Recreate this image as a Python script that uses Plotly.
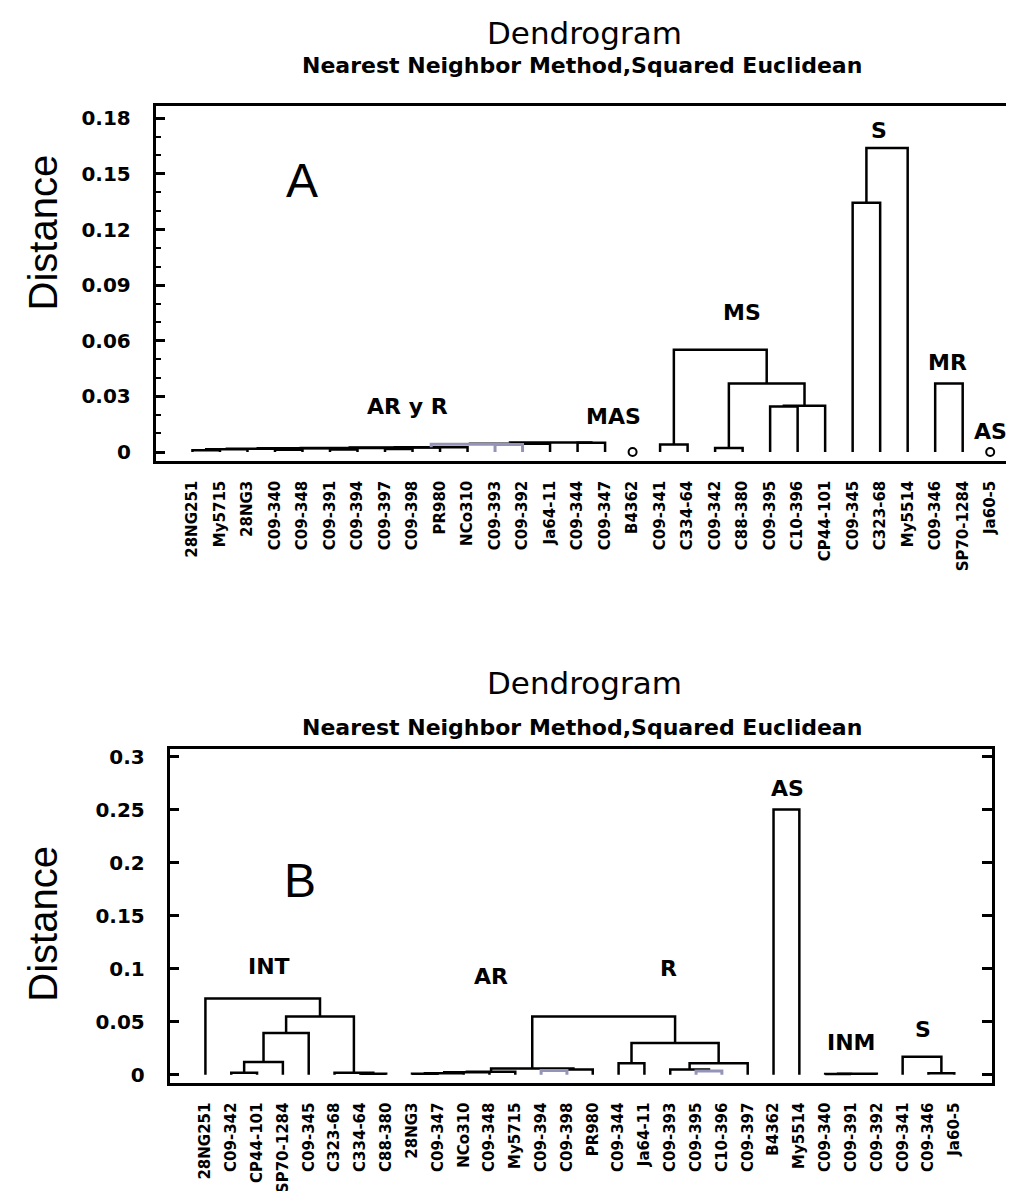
import plotly.graph_objects as go

# ---------------- data: panel A ----------------
leaves_A = ["28NG251", "My5715", "28NG3", "C09-340", "C09-348", "C09-391", "C09-394",
            "C09-397", "C09-398", "PR980", "NCo310", "C09-393", "C09-392", "Ja64-11",
            "C09-344", "C09-347", "B4362", "C09-341", "C334-64", "C09-342", "C88-380",
            "C09-395", "C10-396", "CP44-101", "C09-345", "C323-68", "My5514", "C09-346",
            "SP70-1284", "Ja60-5"]
# merges: (left, right, distance); ids < n are leaves, id n+k is merge k
merges_A = [
    (0, 1, 0.0010), (30, 2, 0.0015), (3, 4, 0.0012), (31, 32, 0.0018),
    (5, 6, 0.0014), (33, 34, 0.0020), (7, 8, 0.0016), (35, 36, 0.0022),
    (37, 9, 0.0024), (38, 10, 0.0026), (11, 12, 0.0040), (39, 40, 0.0042),
    (41, 13, 0.0045), (14, 15, 0.0050), (42, 43, 0.0052),
    (17, 18, 0.0040), (19, 20, 0.0022), (21, 22, 0.0245), (47, 23, 0.0250),
    (46, 48, 0.0370), (45, 49, 0.0552),
    (24, 25, 0.1345), (51, 26, 0.1640),
    (27, 28, 0.0370),
]
tinted_A = [10, 11]          # merges drawn in the faint bluish-grey tone
singletons_A = ["B4362", "Ja60-5"]
yticks_A = [0, 0.03, 0.06, 0.09, 0.12, 0.15, 0.18]
ylabels_A = ["0", "0.03", "0.06", "0.09", "0.12", "0.15", "0.18"]
groups_A = ["AR y R", "MAS", "MS", "S", "MR", "AS"]

# ---------------- data: panel B ----------------
leaves_B = ["28NG251", "C09-342", "CP44-101", "SP70-1284", "C09-345", "C323-68", "C334-64",
            "C88-380", "28NG3", "C09-347", "NCo310", "C09-348", "My5715", "C09-394",
            "C09-398", "PR980", "C09-344", "Ja64-11", "C09-393", "C09-395", "C10-396",
            "C09-397", "B4362", "My5514", "C09-340", "C09-391", "C09-392", "C09-341",
            "C09-346", "Ja60-5"]
merges_B = [
    (1, 2, 0.0020), (30, 3, 0.0120), (31, 4, 0.0395), (6, 7, 0.0010),
    (5, 33, 0.0020), (32, 34, 0.0550), (0, 35, 0.0720),
    (8, 9, 0.0010), (37, 10, 0.0015), (38, 11, 0.0025), (39, 12, 0.0030),
    (13, 14, 0.0040), (41, 15, 0.0050), (40, 42, 0.0060),
    (16, 17, 0.0110), (19, 20, 0.0035), (18, 45, 0.0050), (46, 21, 0.0110),
    (44, 47, 0.0300), (43, 48, 0.0550),
    (22, 23, 0.2500),
    (24, 25, 0.0008), (51, 26, 0.0010),
    (28, 29, 0.0015), (27, 53, 0.0170),
]
tinted_B = [11, 15]
yticks_B = [0, 0.05, 0.1, 0.15, 0.2, 0.25, 0.3]
ylabels_B = ["0", "0.05", "0.1", "0.15", "0.2", "0.25", "0.3"]
groups_B = ["INT", "AR", "R", "AS", "INM", "S"]

TITLE = "Dendrogram"
SUBTITLE = "Nearest Neighbor Method,Squared Euclidean"

W, H = 1014, 1191


def segments(n, merges, pick=None, skip=None):
    pos = [(float(i), 0.0) for i in range(n)]
    xs, ys = [], []
    for k, (a, b, h) in enumerate(merges):
        xa, ya = pos[a]
        xb, yb = pos[b]
        use = True
        if pick is not None and k not in pick:
            use = False
        if skip is not None and k in skip:
            use = False
        if use:
            xs += [xa, xa, xb, xb, None]
            ys += [ya, h, h, yb, None]
        pos.append(((xa + xb) / 2, h))
    return xs, ys


def px(x):
    return x / W


def py(y):
    return 1 - y / H


fig = go.Figure()
LINE = dict(color="black", width=2.5)
TINT = dict(color="#9494b8", width=3)

for leaves, merges, tinted, xr, yr in [(leaves_A, merges_A, tinted_A, "x", "y"),
                                       (leaves_B, merges_B, tinted_B, "x2", "y2")]:
    xs, ys = segments(len(leaves), merges, skip=tinted)
    fig.add_trace(go.Scatter(x=xs, y=ys, mode="lines", line=LINE, xaxis=xr, yaxis=yr,
                             hoverinfo="skip", showlegend=False))
    xs, ys = segments(len(leaves), merges, pick=tinted)
    fig.add_trace(go.Scatter(x=xs, y=ys, mode="lines", line=TINT, xaxis=xr, yaxis=yr,
                             hoverinfo="skip", showlegend=False))

fig.add_trace(go.Scatter(x=[leaves_A.index(s) for s in singletons_A], y=[0, 0],
                         mode="markers", xaxis="x", yaxis="y", showlegend=False,
                         marker=dict(symbol="circle-open", size=8, color="black",
                                     line=dict(width=2))))

TICKFONT = dict(family="DejaVu Sans", size=20, color="black", weight="bold")
LEAFFONT = dict(family="DejaVu Sans", size=15, color="black", weight="bold")

# panel A geometry
A_dom_x = [px(148), 1.0]
A_dom_y = [py(452), py(95)]
A_xr = [(148 - 185) / 27.59, (1014 - 185) / 27.59]
A_yr = [-9 / 1866.7, 0.18 + 12 / 1866.7]
# panel B geometry
B_dom_x = [px(162), px(987)]
B_dom_y = [py(1078), py(742)]
B_xr = [(162 - 198) / 25.9, (987 - 198) / 25.9]
B_yr = [-8 / 1068, (1070 - 742) / 1068]

common_x = dict(showline=True, linecolor="black", linewidth=2.5, mirror=True,
                ticks="", showgrid=False, zeroline=False, tickangle=-90,
                tickfont=LEAFFONT, ticklabelstandoff=11)
common_y = dict(showline=True, linecolor="black", linewidth=2.5, mirror=True,
                ticks="inside", ticklen=10, tickwidth=2.5, tickcolor="black",
                showgrid=False, zeroline=False, tickfont=TICKFONT, ticklabelstandoff=18)

fig.update_layout(
    width=W, height=H, margin=dict(l=0, r=0, t=0, b=0),
    paper_bgcolor="white", plot_bgcolor="white",
    xaxis=dict(domain=A_dom_x, range=A_xr, anchor="y",
               tickvals=list(range(len(leaves_A))), ticktext=leaves_A, **common_x),
    yaxis=dict(domain=A_dom_y, range=A_yr, anchor="x",
               tickvals=yticks_A, ticktext=ylabels_A,
               minor=dict(tick0=0, dtick=0.01, ticks="inside", ticklen=6, tickwidth=2,
                          tickcolor="black"), **common_y),
    yaxis3=dict(overlaying="y", side="right", anchor="x", range=A_yr,
                tickvals=yticks_A, showticklabels=False, ticks="inside", ticklen=8,
                tickwidth=2.5, tickcolor="black", showgrid=False, zeroline=False,
                showline=False),
    xaxis2=dict(domain=B_dom_x, range=B_xr, anchor="y2",
                tickvals=list(range(len(leaves_B))), ticktext=leaves_B, **common_x),
    yaxis2=dict(domain=B_dom_y, range=B_yr, anchor="x2",
                tickvals=yticks_B, ticktext=ylabels_B, **common_y),
    yaxis4=dict(overlaying="y2", side="right", anchor="x2", range=B_yr,
                tickvals=yticks_B, showticklabels=False, ticks="inside", ticklen=10,
                tickwidth=2.5, tickcolor="black", showgrid=False, zeroline=False,
                showline=False),
)
fig.add_trace(go.Scatter(x=[None], y=[None], xaxis="x", yaxis="y3", showlegend=False))
fig.add_trace(go.Scatter(x=[None], y=[None], xaxis="x2", yaxis="y4", showlegend=False))

ann = []
for ty, sy in [(21, 54), (676, 720)]:
    ann.append(dict(x=px(578), y=py(ty), xref="paper", yref="paper", text=TITLE,
                    xanchor="center", yanchor="middle", showarrow=False,
                    font=dict(family="DejaVu Sans", size=31, color="black")))
    ann.append(dict(x=px(576), y=py(sy), xref="paper", yref="paper", text=SUBTITLE,
                    xanchor="center", yanchor="middle", showarrow=False,
                    font=dict(family="DejaVu Sans", size=22, color="black", weight="bold")))
for cy in (222, 918):
    ann.append(dict(x=px(35), y=py(cy), xref="paper", yref="paper", text="Distance",
                    textangle=-90, xanchor="center", yanchor="middle", showarrow=False,
                    font=dict(family="Liberation Sans", size=40, color="black")))
ann.append(dict(x=4.0, y=0.1466, xref="x", yref="y", text="A", showarrow=False,
                font=dict(family="Liberation Sans", size=48, color="black")))
ann.append(dict(x=3.67, y=0.1835, xref="x2", yref="y2", text="B", showarrow=False,
                font=dict(family="Liberation Sans", size=48, color="black")))
GF = dict(family="DejaVu Sans", size=22, color="black", weight="bold")
posA = [(7.8, 0.0246), (15.3, 0.0193), (19.97, 0.075), (24.97, 0.1736), (27.44, 0.0482), (29.0, 0.0112)]
for g, (gx, gy) in zip(groups_A, posA):
    ann.append(dict(x=gx, y=gy, xref="x", yref="y", text=g, showarrow=False, font=GF))
posB = [(2.45, 0.102), (11.04, 0.0926), (17.95, 0.100), (22.55, 0.27), (25.0, 0.030), (27.8, 0.043)]
for g, (gx, gy) in zip(groups_B, posB):
    ann.append(dict(x=gx, y=gy, xref="x2", yref="y2", text=g, showarrow=False, font=GF))
fig.update_layout(annotations=ann)

fig.write_html("out.html")
